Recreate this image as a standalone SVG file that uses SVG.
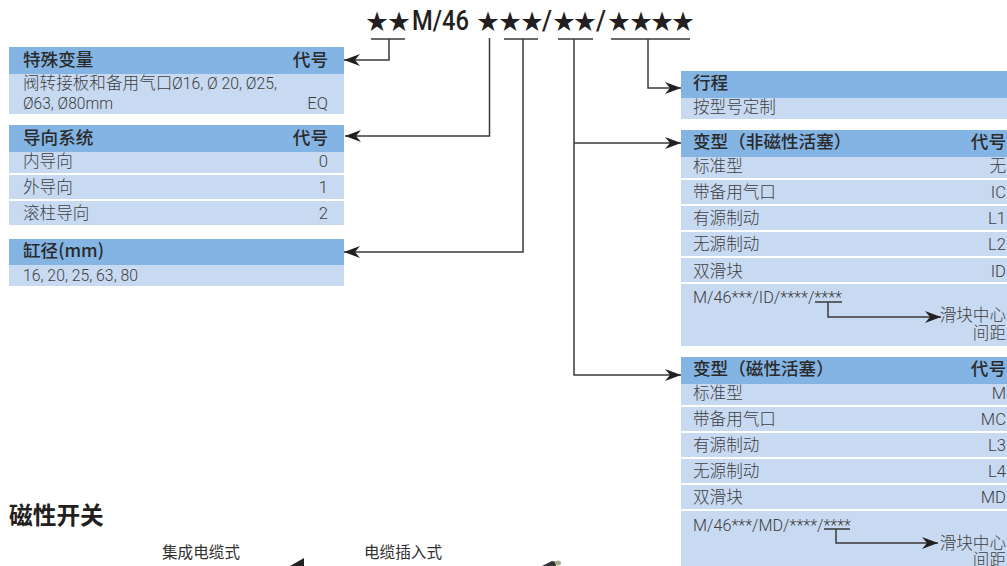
<svg xmlns="http://www.w3.org/2000/svg" width="1007" height="566" viewBox="0 0 1007 566">
<style>
text{font-family:"Roboto","Noto Sans CJK SC",sans-serif;fill:#404040;font-size:16.6px;font-weight:300}
.h{fill:#84b4e4}.b{fill:#c8daf2}
.t{font-family:"Noto Sans CJK SC",sans-serif;font-size:17.6px;font-weight:500;fill:#2a2a2a}
.e{text-anchor:end}
.c{fill:none;stroke:#3a3a3a;stroke-width:1.5}
.top{font-family:"Roboto",sans-serif;font-size:27px;font-weight:500;fill:#231f20}
.star{font-family:"Noto Sans CJK SC",sans-serif;font-size:22px;fill:#231f20;font-weight:400}
.s{font-family:"Noto Sans CJK SC",sans-serif;font-size:15.6px;font-weight:400;fill:#303030}
</style>
<defs>
<marker id="a" markerUnits="userSpaceOnUse" markerWidth="17" markerHeight="13" refX="16" refY="6.500" orient="auto"><path d="M0 .5L16 6.500L0 12.500L5 6.500Z" fill="#231f20"/></marker>
</defs>
<rect width="1007" height="566" fill="#fff"/>
<g id="code">
<text class="star" x="366 388" y="29">★★</text>
<text class="top" x="412" y="29.500" textLength="57" lengthAdjust="spacingAndGlyphs">M/46</text>
<text class="star" x="477 499 521" y="29">★★★</text>
<text class="top" x="542" y="29.500" textLength="10" lengthAdjust="spacingAndGlyphs">/</text>
<text class="star" x="553 574" y="29">★★</text>
<text class="top" x="596" y="29.500" textLength="10" lengthAdjust="spacingAndGlyphs">/</text>
<text class="star" x="608 630 651 672" y="29">★★★★</text>
</g>
<g id="node-special">
<rect class="h" x="9" y="47" width="335" height="27"/><rect class="b" x="9" y="74" width="335" height="40"/>
<text class="t" x="23" y="65.500">特殊变量</text><text class="t e" x="328" y="65.500">代号</text>
<text x="23" y="89">阀转接板和备用气口</text>
<text x="172" y="89" textLength="105" lengthAdjust="spacingAndGlyphs">Ø16, Ø 20, Ø25,</text>
<text x="23" y="109" textLength="90" lengthAdjust="spacingAndGlyphs">Ø63, Ø80mm</text><text class="e" x="328" y="109">EQ</text>
</g>
<g id="node-guide">
<rect class="h" x="9" y="125" width="335" height="27"/>
<rect class="b" x="9" y="152" width="335" height="21"/><rect class="b" x="9" y="175" width="335" height="24"/><rect class="b" x="9" y="201" width="335" height="24"/>
<text class="t" x="23" y="143.500">导向系统</text><text class="t e" x="328" y="143.500">代号</text>
<text x="23" y="167">内导向</text><text class="e" x="328" y="167">0</text>
<text x="23" y="193">外导向</text><text class="e" x="328" y="193">1</text>
<text x="23" y="219">滚柱导向</text><text class="e" x="328" y="219">2</text>
</g>
<g id="node-bore">
<rect class="h" x="9" y="239" width="335" height="26"/><rect class="b" x="9" y="265" width="335" height="21"/>
<text class="t" x="23" y="257">缸径(mm)</text>
<text x="23" y="281" textLength="115" lengthAdjust="spacingAndGlyphs">16, 20, 25, 63, 80</text>
</g>
<g id="node-stroke">
<rect class="h" x="681" y="71" width="326" height="27"/><rect class="b" x="681" y="98" width="326" height="21"/>
<text class="t" x="693" y="88.500">行程</text>
<text x="693" y="113">按型号定制</text>
</g>
<g id="node-nonmag">
<rect class="h" x="681" y="130" width="326" height="27"/>
<rect class="b" x="681" y="157" width="326" height="21"/><rect class="b" x="681" y="180" width="326" height="24"/><rect class="b" x="681" y="206" width="326" height="24"/><rect class="b" x="681" y="232" width="326" height="24"/><rect class="b" x="681" y="258" width="326" height="24"/><rect class="b" x="681" y="284" width="326" height="62"/>
<text class="t" x="693" y="147.500">变型（非磁性活塞）</text><text class="t e" x="1006" y="147.500">代号</text>
<text x="693" y="172">标准型</text><text class="e" x="1006" y="172">无</text>
<text x="693" y="198">带备用气口</text><text class="e" x="1006" y="198">IC</text>
<text x="693" y="224">有源制动</text><text class="e" x="1006" y="224">L1</text>
<text x="693" y="250">无源制动</text><text class="e" x="1006" y="250">L2</text>
<text x="693" y="277">双滑块</text><text class="e" x="1006" y="277">ID</text>
<text x="693" y="303" textLength="149" lengthAdjust="spacingAndGlyphs">M/46***/ID/****/****</text>
<text class="e" x="1006" y="321">滑块中心</text><text class="e" x="1006" y="339">间距</text>
</g>
<g id="node-mag">
<rect class="h" x="681" y="357" width="326" height="27"/>
<rect class="b" x="681" y="384" width="326" height="21"/><rect class="b" x="681" y="407" width="326" height="24"/><rect class="b" x="681" y="433" width="326" height="24"/><rect class="b" x="681" y="459" width="326" height="24"/><rect class="b" x="681" y="485" width="326" height="24"/><rect class="b" x="681" y="511" width="326" height="55"/>
<text class="t" x="693" y="374.500">变型（磁性活塞）</text><text class="t e" x="1006" y="374.500">代号</text>
<text x="693" y="399">标准型</text><text class="e" x="1006" y="399">M</text>
<text x="693" y="425">带备用气口</text><text class="e" x="1006" y="425">MC</text>
<text x="693" y="451">有源制动</text><text class="e" x="1006" y="451">L3</text>
<text x="693" y="477">无源制动</text><text class="e" x="1006" y="477">L4</text>
<text x="693" y="503">双滑块</text><text class="e" x="1006" y="503">MD</text>
<text x="693" y="531" textLength="158" lengthAdjust="spacingAndGlyphs">M/46***/MD/****/****</text>
<text class="e" x="1006" y="549">滑块中心</text><text class="e" x="1006" y="566">间距</text>
</g>
<g id="switches">
<text x="9" y="524" style="font-family:'Noto Sans CJK SC',sans-serif;font-size:23.700px;font-weight:700;fill:#231f20">磁性开关</text>
<text class="s" x="162" y="558">集成电缆式</text>
<text class="s" x="364" y="558">电缆插入式</text>
<path d="M290 566L304 558V566Z" fill="#222"/>
<path d="M542 566L552 561L556 562V566Z" fill="#333"/>
<ellipse cx="558" cy="563" rx="3" ry="2.500" fill="#a9a98c"/>
</g>
<g id="connectors">
<path class="c" d="M371 39H405M389 39V60H344" marker-end="url(#a)"/>
<path class="c" d="M489.500 38V136H345" marker-end="url(#a)"/>
<path class="c" d="M504 39H538M523 39V252H344" marker-end="url(#a)"/>
<path class="c" d="M558 39H593M574 39V375H681" marker-end="url(#a)"/>
<path class="c" d="M574 143H681" marker-end="url(#a)"/>
<path class="c" d="M611 39H690M648 39V88H681" marker-end="url(#a)"/>
<path class="c" d="M815 302H842M828 302V317H941" marker-end="url(#a)"/>
<path class="c" d="M824 529H850M836 529V543H938" marker-end="url(#a)"/>
</g>
</svg>
